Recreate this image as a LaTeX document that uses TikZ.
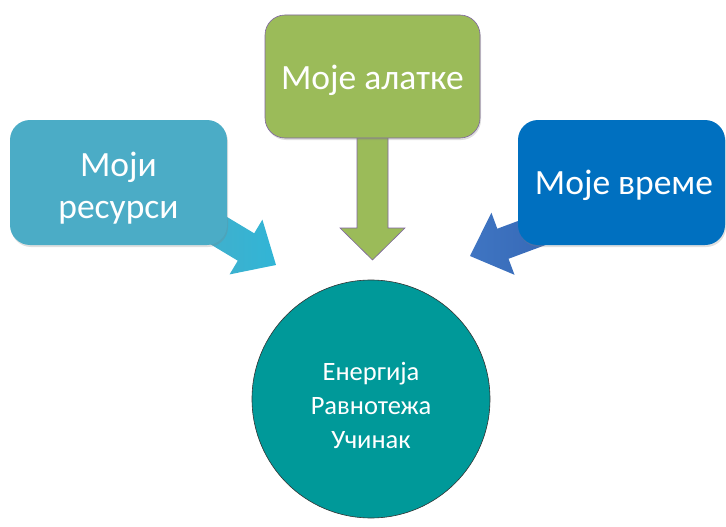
\documentclass[tikz,border=0pt]{standalone}
\usepackage{fontspec}
\setmainfont{Carlito}
\usetikzlibrary{shadows}
\definecolor{aqua}{HTML}{4BACC6}
\definecolor{aqualight}{HTML}{31B5D6}
\definecolor{green}{HTML}{9BBB59}
\definecolor{purp}{HTML}{8064A2}
\definecolor{blue}{HTML}{0070C0}
\definecolor{bluearrow}{HTML}{3F75C2}
\definecolor{bluearrowdark}{HTML}{3262B0}
\definecolor{teal}{HTML}{009999}
\tikzset{
  box/.style={rounded corners=20pt, inner sep=0pt,
    drop shadow={opacity=0.25, shadow xshift=1pt, shadow yshift=-2pt}},
  boxtext/.style={text=white, align=center, font=\fontsize{35.5}{42}\selectfont, inner sep=0pt},
  bigcircle/.style={circle, fill=teal, draw=black!80, line width=0.6pt},
  circtext/.style={text=white, align=center, font=\fontsize{26.5}{34}\selectfont},
}
\begin{document}
\begin{tikzpicture}[x=1pt,y=-1pt]
\useasboundingbox (0,0) rectangle (726,527);
% arrows (behind boxes)
\path[left color=aqua, right color=aqualight]
  (177.1,187.0) -- (254.2,233.3) -- (262.4,219.6) -- (276,265)
  -- (229.6,274.4) -- (237.8,260.7) -- (160.7,214.4) -- cycle;
\path[left color=bluearrow, right color=bluearrowdark]
  (581.9,197.2) -- (497.3,228.7) -- (491.4,212.7) -- (470,256)
  -- (514.5,274.8) -- (508.5,258.8) -- (593.1,227.3) -- cycle;
\draw[fill=green, draw=purp, line width=0.6pt]
  (357,120) -- (357,228) -- (340,228) -- (372.5,260) -- (405,228)
  -- (388,228) -- (388,120) -- cycle;
% boxes
\node[box, fill=aqua, minimum width=217pt, minimum height=125pt] (res) at (118.5,182.5) {};
\node[boxtext] (restext) at (118.5,188) {Моји\\ресурси};
\node[box, fill=green, draw=purp, line width=0.6pt, minimum width=215pt, minimum height=123pt] (tools) at (372.5,76.5) {};
\node[boxtext] (toolstext) at (372.5,80) {Моје алатке};
\node[box, fill=blue, minimum width=207pt, minimum height=125pt] (time) at (621.5,182.5) {};
\node[boxtext] (timetext) at (624,185) {Моје време};
% circle
\node[bigcircle, minimum size=238pt] (core) at (371,399) {};
\node[circtext] (coretext) at (371,405) {Енергија\\Равнотежа\\Учинак};
\end{tikzpicture}
\end{document}
